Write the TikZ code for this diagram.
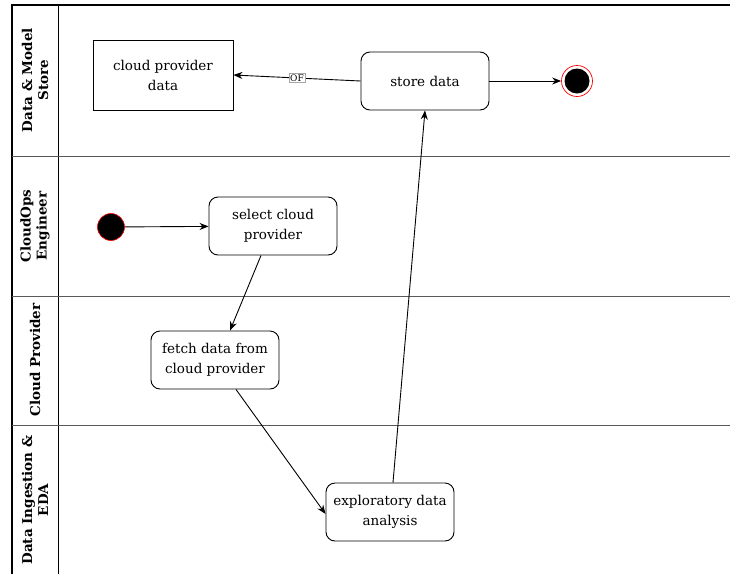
\documentclass[tikz,border=0pt]{standalone}
\usepackage{fontspec}
\setmainfont{DejaVu Serif}
\usepackage{tikz}
\usetikzlibrary{arrows.meta}

\begin{document}
\begin{tikzpicture}[x=1pt,y=-1pt,line width=0.9pt,
  act/.style={draw,rounded corners=9pt,minimum width=128pt,minimum height=58pt,align=center,font=\fontsize{13.5}{20}\selectfont},
  obj/.style={draw,minimum width=140pt,minimum height=70pt,align=center,font=\fontsize{13.5}{20}\selectfont},
  lane/.style={rotate=90,align=center,font=\bfseries\fontsize{13.5}{16}\selectfont},
  flow/.style={-{Stealth[length=9pt,width=7pt]}}]
\useasboundingbox (0,0) rectangle (732,574);
% swimlanes
\draw[line width=1.3pt] (12,574) -- (12,5) -- (730,5);
\draw (58,5) -- (58,574);
\foreach \yy in {156,296,425} {
  \draw[black!65] (12,\yy) -- (730,\yy);
}
\node[lane] (lstore) at (35,80) {Data \& Model\\Store};
\node[lane] (lops) at (35,226) {CloudOps\\Engineer};
\node[lane] (lprov) at (35,360) {Cloud Provider};
\node[lane] (leda) at (35,500) {Data Ingestion \&\\EDA};
% nodes
\node[obj] (cpdata) at (163,75) {cloud provider\\data};
\node[act] (store) at (425,81) {store data};
\node[circle,draw=red,line width=0.7pt,minimum size=31pt,inner sep=0pt] (fin) at (577,81) {};
\fill (fin) circle (12.5);
\node[circle,fill=black,draw=red,line width=0.6pt,minimum size=27pt,inner sep=0pt] (start) at (111,227) {};
\node[act] (select) at (273,226) {select cloud\\provider};
\node[act] (fetch) at (215,360) {fetch data from\\cloud provider};
\node[act] (eda) at (390,512) {exploratory data\\analysis};
% flows
\draw[flow] (store.west) -- node[draw=black!35,line width=0.5pt,fill=white,inner sep=1pt,font=\fontsize{9}{10}\selectfont] (of) {OF} (cpdata.east);
\draw[flow] (store) -- (fin);
\draw[flow] (start) -- (select);
\draw[flow] ([xshift=-12pt]select.south) -- ([xshift=15pt]fetch.north);
\draw[flow] ([xshift=21pt]fetch.south) -- ([yshift=-2pt]eda.west);
\draw[flow] ([xshift=3pt]eda.north) -- (store.south);
\end{tikzpicture}
\end{document}
